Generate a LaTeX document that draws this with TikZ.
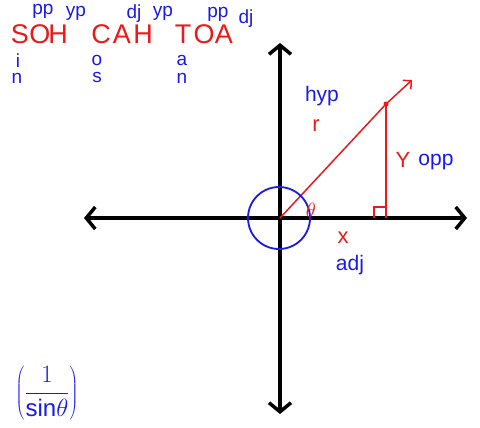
\documentclass[tikz,border=0pt]{standalone}
\usepackage{fontspec}
\setmainfont{Liberation Sans}
\usetikzlibrary{arrows.meta}
\definecolor{pred}{RGB}{235,25,25}
\definecolor{pblue}{RGB}{25,25,235}
\tikzset{
  axis/.style={line width=3.5pt,-{Straight Barb[length=9pt,width=22pt,line width=3.5pt]}},
  rd/.style={text=pred,font=\fontsize{27}{27}\selectfont,inner sep=0pt},
  bl/.style={text=pblue,font=\fontsize{21}{21}\selectfont,inner sep=0pt},
  bs/.style={text=pblue,font=\fontsize{19}{19}\selectfont,inner sep=0pt},
  rl/.style={text=pred,font=\fontsize{22}{22}\selectfont,inner sep=0pt},
  redline/.style={draw=pred,line width=1.5pt}
}
\begin{document}
\begin{tikzpicture}[x=1pt,y=-1pt]
\useasboundingbox (0,0) rectangle (480,428);
% axes
\coordinate (O) at (280,218);
\coordinate (xl) at (84,218);
\coordinate (xr) at (467,218);
\coordinate (yt) at (280,43);
\coordinate (yb) at (280,414);
\draw[axis] (O) -- (xl);
\draw[axis] (O) -- (xr);
\draw[axis] (O) -- (yt);
\draw[axis] (O) -- (yb);
% triangle
\coordinate (P) at (386,104);
\coordinate (F) at (386,218);
\coordinate (T) at (412,80);
\draw[redline] (O) -- (P);
\draw[redline,-{Straight Barb[length=6pt,width=12pt]}] (P) -- (T);
\fill[pred] (P) circle (2.5pt);
\draw[redline] (P) -- (F);
\draw[redline] (374,218) -- (374,207) -- (386,207);
% circle
\draw[pblue,line width=1.8pt] (279,218) circle (31);
% labels
\node[rl] (th) at (311,210) {$\theta$};
\node[rl] (r) at (316,126) {r};
\node[rl] (y) at (403,160) {Y};
\node[rl] (x) at (343,238) {x};
\node[bl] (hyp) at (322,96) {hyp};
\node[bl] (opp) at (436,162) {opp};
\node[bl] (adj) at (350,265) {adj};
% SOH CAH TOA
\node[rd] (S1) at (20,34) {S};
\node[rd] (O1) at (40,34) {O};
\node[rd] (H1) at (58,34) {H};
\node[rd] (C2) at (101,34) {C};
\node[rd] (A2) at (122,34) {A};
\node[rd] (H2) at (143,34) {H};
\node[rd] (T3) at (183,34) {T};
\node[rd] (O3) at (204,34) {O};
\node[rd] (A3) at (224,34) {A};
\node[bs] (s1) at (43,11) {pp};
\node[bs] (s2) at (76,13) {yp};
\node[bs] (s3) at (134,14) {dj};
\node[bs] (s4) at (163,13) {yp};
\node[bs] (s5) at (218,14) {pp};
\node[bs] (s6) at (246,19) {dj};
\node[bs] (b1) at (18,61) {i};
\node[bs] (b2) at (17,78) {n};
\node[bs] (b3) at (97,60) {o};
\node[bs] (b4) at (97,77) {s};
\node[bs] (b5) at (182,60) {a};
\node[bs] (b6) at (182,78) {n};
% bottom left
\node[text=pblue,inner sep=0pt] (frac) at (47,393) {\fontsize{24}{24}\selectfont$\displaystyle\left(\frac{1}{\mathrm{sin}\theta}\right)$};
\end{tikzpicture}
\end{document}
